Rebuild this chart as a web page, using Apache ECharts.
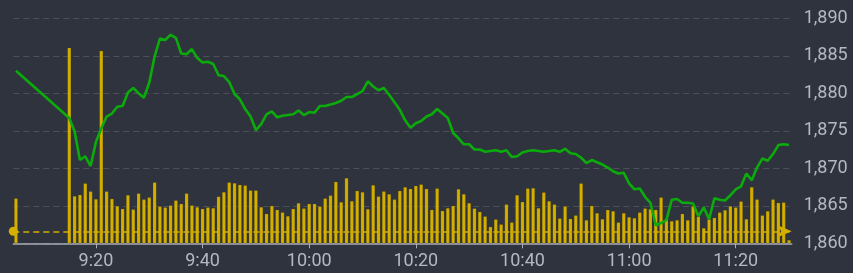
<!DOCTYPE html>
<html>
<head>
<meta charset="utf-8">
<script src="https://cdn.jsdelivr.net/npm/echarts@6/dist/echarts.min.js"></script>
<style>
html,body{margin:0;padding:0;background:#2f333d;}
#c{width:853px;height:273px;}
</style>
</head>
<body>
<div id="c"></div>
<script>
// minute-by-minute categories, 9:05 .. 11:30 (9:06-9:14 have no data)
var startMinute = 9 * 60 + 5;
var minuteCount = 146;

// price (line) values, one per minute; null = no trade
var priceValues = [
  1883.0, null, null, null, null, null, null, null, null, null,
  1876.7, 1874.9, 1871.1, 1871.6, 1870.3, 1873.5, 1875.3, 1876.9, 1877.3, 1878.2,
  1878.3, 1880.1, 1880.7, 1880.0, 1879.4, 1881.4, 1884.9, 1887.3, 1887.1, 1887.8,
  1887.4, 1885.3, 1885.2, 1885.9, 1884.7, 1884.1, 1884.2, 1883.9, 1882.4, 1882.3,
  1881.5, 1879.9, 1879.2, 1877.9, 1876.9, 1875.1, 1875.9, 1877.2, 1877.6, 1876.8,
  1877.0, 1877.1, 1877.2, 1877.7, 1877.1, 1877.5, 1877.4, 1878.3, 1878.3, 1878.5,
  1878.7, 1879.0, 1879.5, 1879.5, 1879.9, 1880.3, 1881.6, 1880.9, 1880.4, 1880.7,
  1879.8, 1878.8, 1877.8, 1876.4, 1875.4, 1876.0, 1876.3, 1876.9, 1877.2, 1877.9,
  1877.3, 1876.7, 1874.7, 1874.0, 1873.2, 1873.2, 1872.5, 1872.5, 1872.2, 1872.3,
  1872.4, 1872.2, 1872.4, 1871.5, 1871.6, 1872.1, 1872.3, 1872.4, 1872.3, 1872.2,
  1872.3, 1872.4, 1872.2, 1872.6, 1872.0, 1871.9, 1871.4, 1870.7, 1871.1, 1870.8,
  1870.5, 1870.1, 1869.6, 1869.3, 1869.4, 1868.0, 1867.2, 1867.3, 1866.2, 1865.4,
  1862.4, 1862.7, 1863.1, 1865.8, 1865.9, 1865.4, 1865.4, 1865.3, 1863.6, 1864.8,
  1863.2, 1866.0, 1865.8, 1865.7, 1866.4, 1867.2, 1867.6, 1869.3, 1868.4, 1870.1,
  1871.3, 1871.0, 1871.9, 1873.1, 1873.2, 1873.1
];

// volume (bar) values, one per minute
var volumeValues = [
  450, null, null, null, null, null, null, null, null, null,
  1956, 473, 486, 600, 520, 443, 1926, 520, 446, 373,
  346, 483, 340, 500, 440, 460, 610, 370, 360, 380,
  430, 396, 500, 380, 363, 346, 360, 353, 468, 513,
  610, 603, 586, 580, 530, 530, 363, 296, 376, 336,
  310, 273, 346, 403, 350, 396, 396, 370, 450, 480,
  616, 413, 653, 423, 526, 513, 343, 583, 470, 520,
  493, 440, 526, 563, 546, 576, 590, 546, 336, 550,
  326, 353, 376, 543, 493, 403, 350, 316, 270, 166,
  240, 190, 390, 210, 483, 416, 550, 553, 353, 510,
  423, 390, 250, 370, 246, 280, 600, 233, 376, 303,
  243, 336, 323, 210, 303, 263, 253, 310, 350, 343,
  336, 460, 243, 223, 233, 296, 233, 373, 266, 153,
  240, 256, 310, 333, 373, 360, 420, 243, 563, 440,
  280, 323, 440, 406, 410, 33
];

var volumeMarkValue = 120;
var priceMin = 1860, priceMax = 1890, priceStep = 5;

var categories = [];
for (var k = 0; k < minuteCount; k++) {
  var t = startMinute + k;
  var h = Math.floor(t / 60), m = t % 60;
  categories.push(h + ':' + (m < 10 ? '0' + m : m));
}
function isTickCat(idx, val) {
  var mm = parseInt(String(val).split(':')[1], 10);
  return mm % 20 === 0;
}
function addCommas(v) {
  return String(v).replace(/\B(?=(\d{3})+(?!\d))/g, ',');
}

var chart = echarts.init(document.getElementById('c'), null, {renderer: 'canvas'});
chart.setOption({
  backgroundColor: '#2f333d',
  animation: false,
  grid: {left: 13.3, right: 61.3, top: 18.3, bottom: 29.7},
  xAxis: {
    type: 'category',
    data: categories,
    boundaryGap: true,
    axisLine: {lineStyle: {color: '#a9adb7', width: 1.5}},
    axisTick: {show: true, interval: isTickCat, alignWithLabel: true, length: 5, lineStyle: {color: '#a9adb7'}},
    axisLabel: {interval: isTickCat, color: '#b4b8c2', fontFamily: 'Roboto', fontSize: 18, margin: 9},
    splitLine: {show: false}
  },
  yAxis: [{
    type: 'value',
    position: 'right',
    min: priceMin, max: priceMax, interval: priceStep,
    axisLine: {show: false},
    axisTick: {show: false},
    axisLabel: {color: '#b4b8c2', fontFamily: 'Roboto', fontSize: 18, margin: 12, formatter: addCommas},
    splitLine: {show: true, lineStyle: {color: '#4c505b', type: [6, 4], width: 1}}
  }, {
    type: 'value',
    min: 0, max: 2250,
    show: false,
    splitLine: {show: false}
  }],
  series: [{
    type: 'bar',
    yAxisIndex: 1,
    data: volumeValues,
    barWidth: '70%',
    itemStyle: {color: '#d4af00', borderColor: 'rgba(60,50,0,0.35)', borderWidth: 0.5},
    markLine: {
      silent: true,
      symbol: ['circle', 'arrow'],
      symbolSize: [9, 14],
      label: {show: false},
      itemStyle: {color: '#d4af00'},
      lineStyle: {color: '#d4af00', type: [6, 4], width: 1.6, opacity: 1},
      emphasis: {disabled: true},
      data: [{yAxis: volumeMarkValue}]
    },
    z: 2
  }, {
    type: 'line',
    data: priceValues,
    connectNulls: true,
    showSymbol: false,
    lineStyle: {color: '#0bab0b', width: 2.6},
    z: 3
  }]
});
</script>
</body>
</html>
